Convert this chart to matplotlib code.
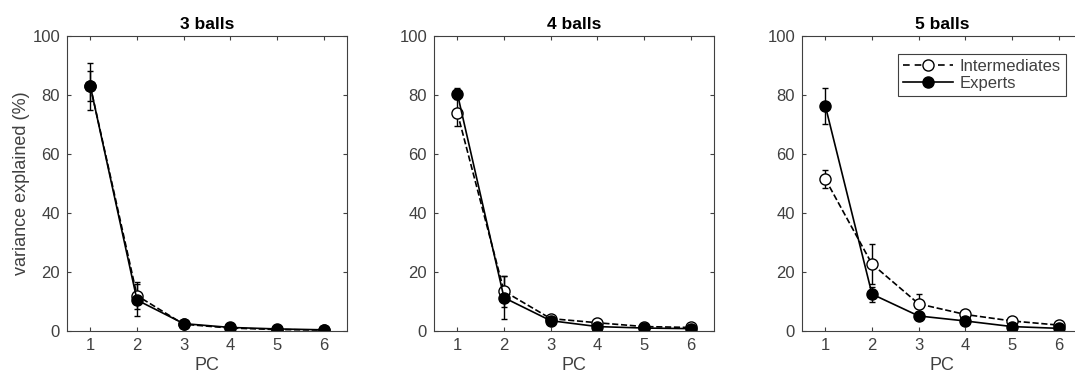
import numpy as np
from matplotlib import pyplot as plt
from matplotlib.lines import Line2D

plt.rcParams['font.family'] = ['Liberation Sans', 'DejaVu Sans']

pcs = np.array([1, 2, 3, 4, 5, 6])
titles = ['3 balls', '4 balls', '5 balls']

# intermediates (open circles, dashed)
inter_mean = [
    [83.0, 12.0, 2.3, 1.0, 0.5, 0.3],
    [74.0, 13.5, 4.2, 2.8, 1.5, 1.2],
    [51.5, 22.7, 9.2, 5.6, 3.4, 2.0],
]
inter_err = [
    [8.0, 4.5, 0.6, 0.3, 0.2, 0.1],
    [4.5, 5.2, 0.8, 0.5, 0.3, 0.2],
    [3.0, 6.8, 3.3, 0.8, 0.5, 0.3],
]
# experts (filled circles, solid)
exp_mean = [
    [83.0, 10.5, 2.5, 1.2, 0.7, 0.4],
    [80.5, 11.3, 3.5, 1.5, 1.0, 0.8],
    [76.3, 12.5, 5.1, 3.4, 1.5, 0.9],
]
exp_err = [
    [5.0, 5.5, 0.6, 0.3, 0.2, 0.1],
    [2.0, 7.2, 0.8, 0.4, 0.3, 0.2],
    [6.0, 2.5, 0.8, 0.5, 0.3, 0.2],
]

W, H = 1075, 378
fig = plt.figure(figsize=(W / 100, H / 100), dpi=100)
lefts = [67, 434, 802]
tick_col = '#404040'

for i in range(3):
    ax = fig.add_axes([lefts[i] / W, 47 / H, 280 / W, 295 / H])
    ax.errorbar(pcs, inter_mean[i], yerr=inter_err[i], color='black', ls='--', lw=1.2,
                marker='o', ms=8, mfc='white', mec='black', mew=1.0,
                capsize=2, elinewidth=1.0, capthick=1.0)
    ax.errorbar(pcs, exp_mean[i], yerr=exp_err[i], color='black', ls='-', lw=1.2,
                marker='o', ms=8, mfc='black', mec='black',
                capsize=2, elinewidth=1.0, capthick=1.0)
    ax.set_xlim(0.5, 6.5)
    ax.set_ylim(0, 100)
    ax.set_xticks(pcs)
    ax.set_yticks([0, 20, 40, 60, 80, 100])
    ax.tick_params(direction='in', top=True, right=True, length=3, labelsize=12,
                   colors=tick_col, labelcolor=tick_col, pad=5)
    for s in ax.spines.values():
        s.set_color(tick_col)
        s.set_linewidth(0.8)
    ax.set_title(titles[i], fontsize=12.5, fontweight='bold', pad=5)
    ax.set_xlabel('PC', fontsize=13, color=tick_col, labelpad=3)
    if i == 0:
        ax.set_ylabel('variance explained (%)', fontsize=13, color=tick_col, labelpad=2)
    if i == 2:
        handles = [
            Line2D([], [], color='black', ls='--', lw=1.2, marker='o', ms=8,
                   mfc='white', mec='black', dashes=(4, 3)),
            Line2D([], [], color='black', ls='-', lw=1.2, marker='o', ms=8,
                   mfc='black', mec='black'),
        ]
        leg = ax.legend(handles, ['Intermediates', 'Experts'], loc='upper right',
                        fontsize=12, fancybox=False, framealpha=1,
                        edgecolor=tick_col, handlelength=3.0, borderpad=0.3,
                        labelspacing=0.15, handletextpad=0.4, borderaxespad=0,
                        bbox_to_anchor=(264 / 280, 0.94))
        leg.get_frame().set_linewidth(0.8)
        for t in leg.get_texts():
            t.set_color(tick_col)

plt.savefig('out.png', dpi=100)
plt.close()
